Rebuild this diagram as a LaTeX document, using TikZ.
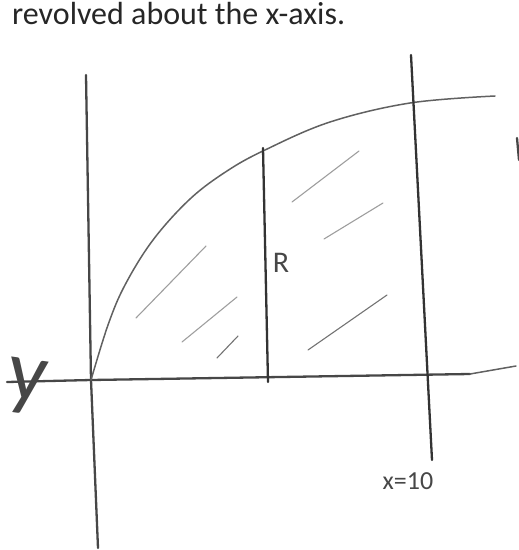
\documentclass[tikz,border=0pt]{standalone}
\usepackage{fontspec}
\setmainfont{Carlito}
\usetikzlibrary{calc}
\tikzset{
  axis/.style  ={draw=black!72, line width=2.3pt, line cap=round},
  curve/.style ={draw=black!62, line width=1.5pt, line cap=round},
  slab/.style  ={draw=black!80, line width=2.3pt, line cap=round},
  hatch/.style ={draw=black!38, line width=1.1pt, line cap=round},
  hand/.style  ={text=black!72, inner sep=0pt}
}

\begin{document}
\begin{tikzpicture}[x=1pt,y=-1pt]
  \useasboundingbox (0,0) rectangle (519,550);
  \node[font=\fontsize{32}{34}\selectfont, anchor=base west, text=black!85, inner sep=0pt] (title) at (12,24) {revolved about the x-axis.};

  % axes
  \coordinate (O)    at (91,380);
  \coordinate (ytop) at (86,75);
  \coordinate (ybot) at (98,548);
  \coordinate (xl)   at (7,382);
  \coordinate (xr)   at (470,374);
  \coordinate (xtip) at (516,366);
  \draw[axis] (ytop) -- (O) -- (ybot);
  \draw[axis] (xl) -- (O) -- (xr);
  \draw[curve] (xr) -- (xtip);
  \node[hand, font=\fontsize{86}{86}\selectfont, rotate=-8] (ylab) at (27,387) {y};

  % the curve
  \draw[curve] plot[smooth, tension=0.6] coordinates {(O) (108,325) (125,285) (153,240) (190,199) (227,171) (265,150) (330,122) (410,103) (495,96)};

  % slice and right bound
  \coordinate (Rtop) at (263,148);
  \coordinate (Rbot) at (268,382);
  \draw[slab] (Rtop) -- (Rbot);
  \node[hand, font=\fontsize{30}{30}\selectfont] (Rlab) at (281,263) {R};
  \coordinate (Ttop) at (411,55);
  \coordinate (Tbot) at (432,460);
  \draw[slab] (Ttop) -- (Tbot);
  \node[hand, font=\fontsize{26}{26}\selectfont] (xlab) at (408,481) {x=10};

  % shading strokes
  \draw[hatch] (136,318) -- (206,246);
  \draw[hatch] (182,342) -- (237,297);
  \draw[hatch, black!55] (217,358) -- (238,336);
  \draw[hatch] (292,202) -- (359,151);
  \draw[hatch] (324,239) -- (383,203);
  \draw[hatch, black!55] (308,350) -- (387,295);

  \draw[axis] (517,138) -- (519,160);
\end{tikzpicture}
\end{document}
